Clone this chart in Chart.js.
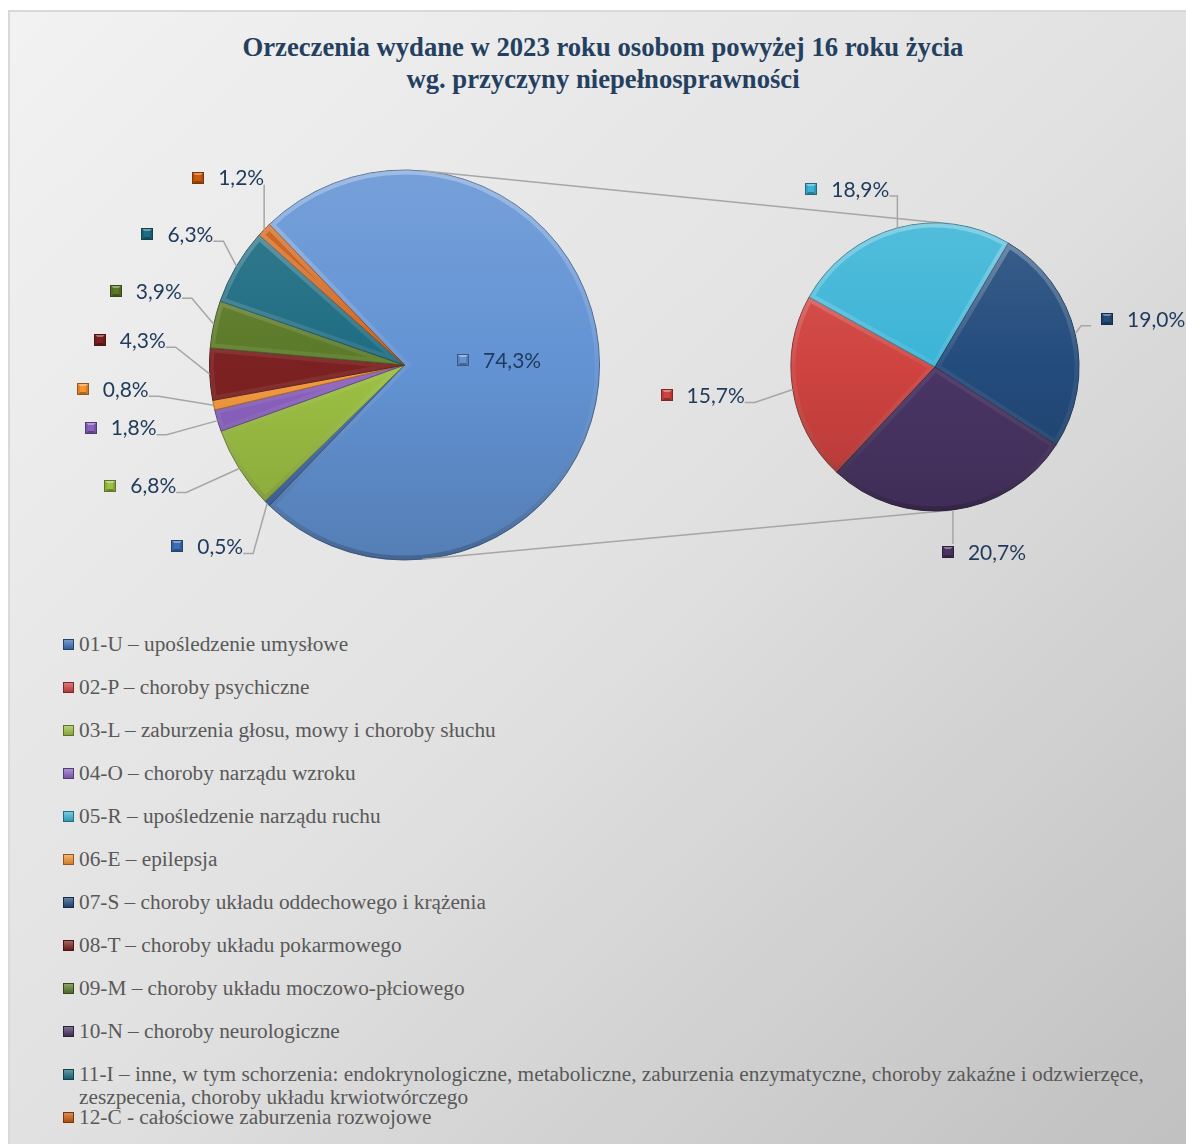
<!DOCTYPE html>
<html lang="pl">
<head>
<meta charset="utf-8">
<title>Orzeczenia 2023 – przyczyny niepełnosprawności</title>
<script src="https://cdn.jsdelivr.net/npm/chart.js@4.4.1/dist/chart.umd.min.js"></script>
<style>
  html, body { margin: 0; padding: 0; width: 1186px; height: 1144px; overflow: hidden; background: #fff; }
  #ramka {
    position: absolute; left: 8px; top: 10px; width: 1200px; height: 1150px;
    border-top: 2px solid #d9d9d9; border-left: 2px solid #d9d9d9;
    background: linear-gradient(to bottom right, #f2f2f2 0%, #e1e1e1 50%, #bfbfbf 100%);
  }
  #tytul {
    position: absolute; left: 0; top: 31px; width: 1206px; text-align: center;
    font: bold 26.67px "Liberation Serif", "Times New Roman", serif; line-height: 32px; color: #243f60;
  }
  canvas { position: absolute; left: 0; top: 120px; }
  #legenda { position: absolute; left: 63px; top: 633px; }
  .poz { display: flex; align-items: flex-start; height: 43px; }
  .znak { width: 11px; height: 11px; margin-top: 6px; margin-right: 5px; flex: none; box-sizing: border-box; }
  .opis { font: 21.3px "Liberation Serif", "Times New Roman", serif; line-height: 23px; color: #595959; max-width: 1090px; }
</style>
</head>
<body>
<div id="ramka"></div>
<div id="tytul">Orzeczenia wydane w 2023 roku osobom powyżej 16 roku życia<br>wg. przyczyny niepełnosprawności</div>
<canvas id="wykresGlowny" width="1186" height="490"></canvas>
<canvas id="wykresDodatkowy" width="1186" height="490"></canvas>
<div id="legenda"></div>

<script>
// dane (w %)
const legendLabels = [
  '01-U – upośledzenie umysłowe',
  '02-P – choroby psychiczne',
  '03-L – zaburzenia głosu, mowy i choroby słuchu',
  '04-O – choroby narządu wzroku',
  '05-R – upośledzenie narządu ruchu',
  '06-E – epilepsja',
  '07-S – choroby układu oddechowego i krążenia',
  '08-T – choroby układu pokarmowego',
  '09-M – choroby układu moczowo-płciowego',
  '10-N – choroby neurologiczne',
  '11-I – inne, w tym schorzenia: endokrynologiczne, metaboliczne, zaburzenia enzymatyczne, choroby zakaźne i odzwierzęce, zeszpecenia, choroby układu krwiotwórczego',
  '12-C - całościowe zaburzenia rozwojowe'
];
const legendCodes = ['01-U', '02-P', '03-L', '04-O', '05-R', '06-E', '07-S', '08-T', '09-M', '10-N', '11-I', '12-C'];

const mainCodes = ['inne', '01-U', '03-L', '04-O', '06-E', '08-T', '09-M', '11-I', '12-C'];
const mainValues = [74.3, 0.5, 6.8, 1.8, 0.8, 4.3, 3.9, 6.3, 1.2];

const secondCodes = ['02-P', '05-R', '07-S', '10-N'];
const secondValues = [15.7, 18.9, 19.0, 20.7];

// wygląd
const kolory = {
  'inne': '#6393d4', '01-U': '#3d6eb4', '02-P': '#cf4340', '03-L': '#9cc043',
  '04-O': '#8b62c0', '05-R': '#3bb4d6', '06-E': '#f59331', '07-S': '#234b7c',
  '08-T': '#7c2121', '09-M': '#5b7a28', '10-N': '#4a3565', '11-I': '#1e6c82', '12-C': '#cc5a0e'
};
// przesunięcie etykiety względem punktu na brzegu wycinka (L = etykieta na lewo)
const etykiety = {
  'inne': { wewn: true },
  '01-U': { dx: -24, dy: 43, strona: 'L' },
  '03-L': { dx: -63, dy: 17, strona: 'L' },
  '04-O': { dx: -61, dy: 7, strona: 'L' },
  '06-E': { dx: -65, dy: -16, strona: 'L' },
  '08-T': { dx: -44, dy: -34, strona: 'L' },
  '09-M': { dx: -32, dy: -33, strona: 'L' },
  '11-I': { dx: -23, dy: -32, strona: 'L' },
  '12-C': { dx: 0, dy: -52, strona: 'L' },
  '02-P': { dx: -48, dy: 6, strona: 'L' },
  '05-R': { dx: -8, dy: -39, strona: 'L' },
  '07-S': { dx: 26, dy: -15, strona: 'P' },
  '10-N': { dx: -11, dy: 42, strona: 'P' }
};
const KOLOR_TEKSTU = '#1f3a5c';
const KOLOR_LINII = '#a6a6a6';
const ZNACZNIK = 12;
const ODSTEP = 14;

function mieszaj(hex, cel, t) {
  const n = parseInt(hex.slice(1), 16);
  const r = (n >> 16) & 255, g = (n >> 8) & 255, b = n & 255;
  const f = v => Math.round(v + (cel - v) * t);
  return `rgb(${f(r)}, ${f(g)}, ${f(b)})`;
}
const jasniej = (h, t) => mieszaj(h, 255, t);
const ciemniej = (h, t) => mieszaj(h, 0, t);

function wypelnienie(kody) {
  return function (c) {
    const obszar = c.chart.chartArea;
    const kolor = kolory[kody[c.dataIndex]];
    if (!obszar) return kolor;
    const g = c.chart.ctx.createLinearGradient(0, obszar.top, 0, obszar.bottom);
    g.addColorStop(0, jasniej(kolor, 0.12));
    g.addColorStop(0.5, kolor);
    g.addColorStop(1, ciemniej(kolor, 0.15));
    return g;
  };
}

function rysujZnacznik(ctx, x, y, s, kolor) {
  const w = 3;
  ctx.fillStyle = kolor;
  ctx.fillRect(x, y, s, s);
  const sciana = (pkt, styl) => {
    ctx.beginPath();
    pkt.forEach((p, i) => i ? ctx.lineTo(p[0], p[1]) : ctx.moveTo(p[0], p[1]));
    ctx.closePath();
    ctx.fillStyle = styl;
    ctx.fill();
  };
  sciana([[x, y], [x + s, y], [x + s - w, y + w], [x + w, y + w]], jasniej(kolor, 0.35));
  sciana([[x, y + s], [x + s, y + s], [x + s - w, y + s - w], [x + w, y + s - w]], ciemniej(kolor, 0.3));
  sciana([[x, y], [x + w, y + w], [x + w, y + s - w], [x, y + s]], ciemniej(kolor, 0.1));
  sciana([[x + s, y], [x + s - w, y + w], [x + s - w, y + s - w], [x + s, y + s]], ciemniej(kolor, 0.15));
  ctx.strokeStyle = ciemniej(kolor, 0.4);
  ctx.lineWidth = 1;
  ctx.strokeRect(x + 0.5, y + 0.5, s - 1, s - 1);
}

// delikatna fazka na brzegach wycinków
const fazka = {
  id: 'fazka',
  afterDatasetsDraw(chart) {
    const ctx = chart.ctx;
    chart.getDatasetMeta(0).data.forEach(luk => {
      const p = luk.getProps(['x', 'y', 'startAngle', 'endAngle', 'outerRadius'], true);
      ctx.save();
      ctx.beginPath();
      ctx.moveTo(p.x, p.y);
      ctx.arc(p.x, p.y, p.outerRadius, p.startAngle, p.endAngle);
      ctx.closePath();
      ctx.clip();
      const g = ctx.createLinearGradient(0, p.y - p.outerRadius, 0, p.y + p.outerRadius);
      g.addColorStop(0, 'rgba(255,255,255,0.30)');
      g.addColorStop(0.5, 'rgba(255,255,255,0.06)');
      g.addColorStop(1, 'rgba(0,0,0,0.20)');
      ctx.strokeStyle = g;
      ctx.lineWidth = 9;
      ctx.stroke();
      ctx.restore();
    });
  }
};

function etykietyPlugin(kody, wartosci) {
  return {
    id: 'etykiety',
    afterDraw(chart) {
      const ctx = chart.ctx;
      ctx.save();
      ctx.font = '21px Lato, "Open Sans", sans-serif';
      ctx.textBaseline = 'middle';
      chart.getDatasetMeta(0).data.forEach((luk, i) => {
        const p = luk.getProps(['x', 'y', 'startAngle', 'endAngle', 'outerRadius'], true);
        const kat = (p.startAngle + p.endAngle) / 2;
        const kod = kody[i];
        const cfg = etykiety[kod];
        const tekst = wartosci[i].toFixed(1).replace('.', ',') + '%';
        const boxW = ZNACZNIK + ODSTEP + ctx.measureText(tekst).width;
        let lewo, cy;
        if (cfg.wewn) {
          const r = p.outerRadius * 0.485;
          cy = p.y + Math.sin(kat) * r - 5;
          lewo = p.x + Math.cos(kat) * r - boxW / 2;
        } else {
          const ex = p.x + Math.cos(kat) * p.outerRadius;
          const ey = p.y + Math.sin(kat) * p.outerRadius;
          const ax = ex + cfg.dx;
          cy = ey + cfg.dy;
          lewo = cfg.strona === 'L' ? ax - boxW : ax;
          const prawo = lewo + boxW;
          ctx.strokeStyle = KOLOR_LINII;
          ctx.lineWidth = 1.5;
          ctx.beginPath();
          if (ex > lewo + 1 && ex < prawo - 1) {
            ctx.moveTo(ex, ey);
            ctx.lineTo(ex, ey < cy ? cy - 8 : cy + 8);
          } else if (ex >= prawo - 1) {
            const yk = cy + 7;
            const stub = Math.max(0, Math.min(10, ex - prawo));
            ctx.moveTo(ex, ey);
            ctx.lineTo(prawo + stub, yk);
            ctx.lineTo(prawo, yk);
          } else {
            const yk = cy + 7;
            const x0 = lewo - 10;
            const stub = Math.max(0, Math.min(10, x0 - ex));
            ctx.moveTo(ex, ey);
            ctx.lineTo(x0 - stub, yk);
            ctx.lineTo(x0, yk);
          }
          ctx.stroke();
        }
        rysujZnacznik(ctx, Math.round(lewo), Math.round(cy - ZNACZNIK / 2), ZNACZNIK, kolory[kod]);
        ctx.fillStyle = KOLOR_TEKSTU;
        ctx.fillText(tekst, lewo + ZNACZNIK + ODSTEP, cy + 1);
      });
      ctx.restore();
    }
  };
}

const sumaGlowna = mainValues.reduce((a, b) => a + b, 0);

const wykresGlowny = new Chart(document.getElementById('wykresGlowny'), {
  type: 'pie',
  data: {
    labels: mainCodes,
    datasets: [{
      data: mainValues,
      backgroundColor: wypelnienie(mainCodes),
      borderColor: mainCodes.map(k => ciemniej(kolory[k], 0.35)),
      borderWidth: 1
    }]
  },
  options: {
    responsive: false,
    animation: false,
    radius: 195,
    // "inne" wyśrodkowane na prawo, w stronę drugiego koła
    rotation: 90 - (mainValues[0] / sumaGlowna) * 180,
    layout: { padding: { left: 203, right: 580, top: 45, bottom: 45 } },
    plugins: { legend: { display: false }, tooltip: { enabled: false } }
  },
  plugins: [fazka, etykietyPlugin(mainCodes, mainValues)]
});

const linieLaczace = {
  id: 'linieLaczace',
  beforeDatasetsDraw(chart) {
    const m = wykresGlowny.getDatasetMeta(0).data[0];
    const s = chart.getDatasetMeta(0).data[0];
    const dx = s.x - m.x, dy = s.y - m.y;
    const d = Math.hypot(dx, dy);
    const baza = Math.atan2(dy, dx);
    const alfa = Math.asin((m.outerRadius - s.outerRadius) / d);
    const ctx = chart.ctx;
    ctx.save();
    ctx.strokeStyle = KOLOR_LINII;
    ctx.lineWidth = 1.5;
    [-1, 1].forEach(zn => {
      const th = baza + zn * (Math.PI / 2 - alfa);
      ctx.beginPath();
      ctx.moveTo(m.x + Math.cos(th) * m.outerRadius, m.y + Math.sin(th) * m.outerRadius);
      ctx.lineTo(s.x + Math.cos(th) * s.outerRadius, s.y + Math.sin(th) * s.outerRadius);
      ctx.stroke();
    });
    ctx.restore();
  }
};

new Chart(document.getElementById('wykresDodatkowy'), {
  type: 'pie',
  data: {
    labels: secondCodes,
    datasets: [{
      data: secondValues,
      backgroundColor: wypelnienie(secondCodes),
      borderColor: secondCodes.map(k => ciemniej(kolory[k], 0.35)),
      borderWidth: 1
    }]
  },
  options: {
    responsive: false,
    animation: false,
    radius: 144,
    rotation: 223,
    layout: { padding: { left: 785, right: 101, top: 97, bottom: 93 } },
    plugins: { legend: { display: false }, tooltip: { enabled: false } }
  },
  plugins: [linieLaczace, fazka, etykietyPlugin(secondCodes, secondValues)]
});

// legenda
const $leg = document.getElementById('legenda');
legendLabels.forEach((txt, i) => {
  const kolor = kolory[legendCodes[i]];
  const poz = document.createElement('div');
  poz.className = 'poz';
  poz.innerHTML = `<span class="znak" style="background:linear-gradient(${jasniej(kolor, 0.3)}, ${ciemniej(kolor, 0.15)});
      border:1px solid ${ciemniej(kolor, 0.4)};"></span><span class="opis">${txt}</span>`;
  $leg.appendChild(poz);
});
</script>
</body>
</html>
